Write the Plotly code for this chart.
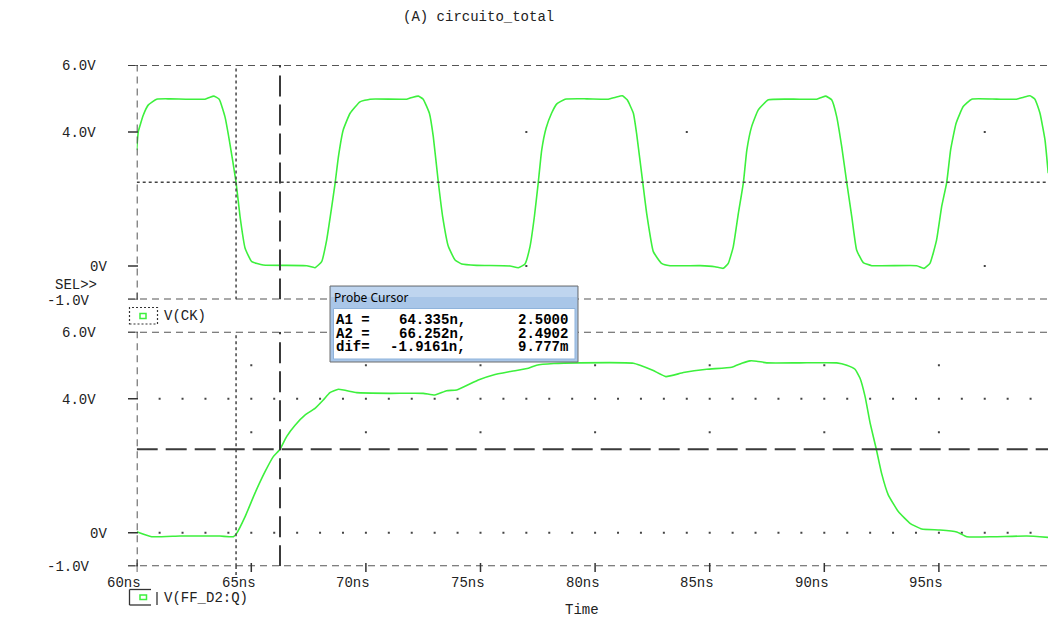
import plotly.graph_objects as go

W, H = 1048, 619

# ---------------- data ----------------
ck_t = [60.0, 60.07, 60.29, 60.51, 60.87, 61.45, 62.98, 63.2, 63.37, 63.6, 63.85, 64.04, 64.335, 64.51, 64.73,
        65.02, 65.52, 67.42, 67.78, 68.07, 68.29, 68.51, 68.66, 68.8, 69.01, 69.31, 69.74, 70.18, 71.78,
        72.05, 72.29, 72.5, 72.77, 72.94, 73.16, 73.35, 73.6, 73.89, 74.18, 74.83, 76.29, 76.65, 76.94,
        77.16, 77.35, 77.52, 77.67, 77.86, 78.1, 78.33, 78.69, 79.63, 80.58, 80.9, 81.19, 81.4, 81.67,
        81.81, 82.08, 82.25, 82.54, 82.9, 83.27, 84.58, 85.23, 85.59, 85.81, 86.03, 86.25, 86.47, 86.62,
        86.83, 87.12, 87.56, 88.65, 89.67, 89.9, 90.07, 90.32, 90.54, 90.76, 90.98, 91.2, 91.41, 91.7,
        92.07, 94.03, 94.35, 94.61, 94.9, 95.12, 95.34, 95.51, 95.75, 96.06, 96.43, 97.52, 98.39, 98.7,
        98.97, 99.19, 99.41, 99.63, 99.77]
ck_v = [3.46, 4.01, 4.51, 4.81, 4.98, 4.99, 4.98, 5.04, 5.07, 4.98, 4.46, 3.76, 2.50, 1.47, 0.53,
        0.13, 0.03, 0.01, -0.05, 0.13, 0.78, 1.77, 2.49, 3.26, 4.06, 4.56, 4.90, 4.98, 4.98,
        5.04, 5.07, 4.98, 4.56, 3.86, 2.50, 1.47, 0.58, 0.18, 0.06, 0.02, 0.0, -0.05, 0.06,
        0.58, 1.47, 2.49, 3.46, 4.11, 4.56, 4.84, 4.98, 4.99, 4.98, 5.04, 5.08, 4.96, 4.56,
        3.96, 2.49, 1.57, 0.43, 0.08, 0.01, 0.01, -0.02, -0.07, 0.08, 0.58, 1.57, 2.49, 3.46,
        4.16, 4.66, 4.96, 4.98, 4.98, 5.04, 5.07, 4.96, 4.46, 3.56, 2.49, 1.47, 0.48, 0.10,
        0.01, 0.01, -0.07, 0.08, 0.78, 1.77, 2.49, 3.46, 4.26, 4.76, 4.98, 4.98, 4.98, 5.04,
        5.08, 4.98, 4.56, 3.76, 2.77]

q_t = [60.0, 60.65, 61.89, 63.63, 64.22, 64.36, 64.73, 65.16, 65.6, 65.96, 66.252, 66.54, 66.91, 67.34,
       67.78, 68.14, 68.43, 68.8, 69.6, 71.05, 72.5, 73.01, 73.52, 73.96, 74.9, 75.56, 76.29, 77.09,
       77.45, 78.2, 79.27, 81.67, 81.96, 82.54, 83.09, 83.85, 84.87, 85.96, 86.4, 86.76, 87.05, 87.49,
       88.94, 90.54, 90.98, 91.34, 91.56, 91.78, 92.0, 92.26, 92.5, 92.79, 93.23, 93.74, 94.25, 95.05,
       95.78, 96.22, 97.38, 98.83, 99.76]
q_v = [0.03, -0.12, -0.10, -0.10, -0.12, -0.02, 0.48, 1.18, 1.82, 2.27, 2.49, 2.87, 3.21, 3.51,
       3.71, 3.96, 4.18, 4.28, 4.18, 4.16, 4.16, 4.11, 4.24, 4.26, 4.56, 4.71, 4.81, 4.91,
       5.00, 5.05, 5.07, 5.06, 5.00, 4.84, 4.66, 4.78, 4.88, 4.94, 5.06, 5.13, 5.12, 5.07,
       5.07, 5.07, 5.00, 4.88, 4.61, 4.06, 3.27, 2.52, 1.77, 1.13, 0.63, 0.28, 0.11, 0.08,
       0.02, -0.12, -0.12, -0.10, -0.14]

x_range = [60, 99.76]
y_range = [-1, 6]
x_ticks = [60, 65, 70, 75, 80, 85, 90, 95]
x_tick_text = ["60ns", "65ns", "70ns", "75ns", "80ns", "85ns", "90ns", "95ns"]
y_ticks = [6, 4, 0, -1]
y_tick_text = ["6.0V", "4.0V", "0V", "-1.0V"]
y_label_right_px = [97, 97, 108, 91]

a1_t, a1_v = 64.335, 2.5000
a2_t, a2_v = 66.252, 2.4902
cursor_rows = [("A1 =", "64.335n,", "2.5000"),
               ("A2 =", "66.252n,", "2.4902"),
               ("dif=", "-1.9161n,", "9.777m")]

# grid dots
bottom_rows_v = [4, 0]
bottom_minor_t = [61, 62, 63, 64, 65, 66, 67, 68, 69, 70, 71, 72, 73, 74, 75, 76, 77, 78, 79, 80,
                  81, 82, 83, 84, 85, 86, 87, 88, 89, 90, 91, 92, 93, 94, 95, 96, 97, 98, 99]
bottom_cols_t = [65, 70, 75, 80, 85, 90, 95]
bottom_cols_v = [5, 3]
top_dots_t = [77, 84, 97, 97, 77]
top_dots_v = [4, 4, 4, 0, 0]

# ---------------- styling ----------------
GREEN = "#3df03d"
GRAY = "#555555"
FONT = "Liberation Mono, Courier New, monospace"
TXT = "#222222"


def px(x):
    return x / W


def py(y):
    return 1 - y / H


fig = go.Figure()

gx, gy = [], []
for v in bottom_rows_v:
    for t in bottom_minor_t:
        gx.append(t); gy.append(v)
for t in bottom_cols_t:
    for v in bottom_cols_v:
        gx.append(t); gy.append(v)
fig.add_trace(go.Scatter(x=gx, y=gy, xaxis="x2", yaxis="y2", mode="markers",
                         marker=dict(symbol="square", size=2, color="#444", line=dict(width=0)),
                         hoverinfo="skip", showlegend=False))
fig.add_trace(go.Scatter(x=top_dots_t, y=top_dots_v, xaxis="x", yaxis="y", mode="markers",
                         marker=dict(symbol="square", size=2, color="#444", line=dict(width=0)),
                         hoverinfo="skip", showlegend=False))

fig.add_trace(go.Scatter(x=ck_t, y=ck_v, xaxis="x", yaxis="y", mode="lines",
                         line=dict(color=GREEN, width=1.6, shape="spline", smoothing=0.4),
                         name="V(CK)", showlegend=False))
fig.add_trace(go.Scatter(x=q_t, y=q_v, xaxis="x2", yaxis="y2", mode="lines",
                         line=dict(color=GREEN, width=1.6, shape="spline", smoothing=0.4),
                         name="V(FF_D2:Q)", showlegend=False))

shapes = []
BORDER_DASH = "7px,5px"
DOT = "3px,3px"
LONG = "21px,8px"

for xr, yr in (("x", "y"), ("x2", "y2")):
    for v in (y_range[1], y_range[0]):
        shapes.append(dict(type="line", xref="paper", yref=yr, x0=px(128), x1=1, y0=v, y1=v,
                           line=dict(color=GRAY, width=2, dash=BORDER_DASH)))
    shapes.append(dict(type="line", xref=xr, yref=yr, x0=x_range[0], x1=x_range[0], y0=y_range[0], y1=y_range[1],
                       line=dict(color=GRAY, width=2, dash=BORDER_DASH)))
    for v in y_ticks:
        shapes.append(dict(type="line", xref="paper", yref=yr, x0=px(128), x1=px(138), y0=v, y1=v,
                           line=dict(color="#333", width=1.5)))
    shapes.append(dict(type="line", xref=xr, yref=yr, x0=a1_t, x1=a1_t, y0=y_range[0], y1=y_range[1],
                       line=dict(color="#444", width=1.5, dash=DOT)))
    shapes.append(dict(type="line", xref=xr, yref=yr, x0=a2_t, x1=a2_t, y0=y_range[0], y1=y_range[1],
                       line=dict(color="#3a3a3a", width=2, dash=LONG)))

for yr in ("y", "y2"):
    shapes.append(dict(type="line", xref="x" if yr == "y" else "x2", yref=yr, x0=60, x1=60, y0=-1.2, y1=-0.8,
                       line=dict(color="#333", width=1.5)))

shapes.append(dict(type="line", xref="x", yref="y", x0=x_range[0], x1=x_range[1], y0=a1_v, y1=a1_v,
                   line=dict(color="#444", width=1.5, dash=DOT)))
shapes.append(dict(type="line", xref="x2", yref="y2", x0=x_range[0], x1=x_range[1], y0=a2_v, y1=a2_v,
                   line=dict(color="#3a3a3a", width=2, dash=LONG)))
shapes.append(dict(type="line", xref="x2", yref="paper", x0=a1_t, x1=a1_t, y0=py(566), y1=py(578),
                   line=dict(color="#444", width=1.5, dash=DOT)))

for t in x_ticks:
    shapes.append(dict(type="line", xref="x2", yref="paper", x0=t, x1=t, y0=py(563), y1=py(572),
                       line=dict(color="#333", width=1.5)))

# legend V(CK)
shapes.append(dict(type="rect", xref="paper", yref="paper", x0=px(129.5), x1=px(157.5), y0=py(324), y1=py(307.5),
                   line=dict(color="#333", width=1.2, dash="2px,2px")))
shapes.append(dict(type="rect", xref="paper", yref="paper", x0=px(140), x1=px(146), y0=py(318.5), y1=py(313.5),
                   line=dict(color=GREEN, width=1.5)))
# legend V(FF_D2:Q)
for (x0, y0, x1, y1) in ((129.5, 589.5, 151, 589.5), (129.5, 589.5, 129.5, 605), (129.5, 605, 151, 605),
                         (157, 592, 157, 605)):
    shapes.append(dict(type="line", xref="paper", yref="paper", x0=px(x0), x1=px(x1), y0=py(y0), y1=py(y1),
                       line=dict(color="#333", width=1.3)))
shapes.append(dict(type="rect", xref="paper", yref="paper", x0=px(140), x1=px(146.5), y0=py(599.5), y1=py(595),
                   line=dict(color=GREEN, width=1.5)))

# probe cursor window
shapes.append(dict(type="rect", xref="paper", yref="paper", x0=px(330), x1=px(578), y0=py(362), y1=py(286),
                   line=dict(color="#6e6e6e", width=1), fillcolor="#a9c6e8"))
shapes.append(dict(type="rect", xref="paper", yref="paper", x0=px(331), x1=px(577), y0=py(297), y1=py(287),
                   line=dict(width=0), fillcolor="#bfd5ef"))
shapes.append(dict(type="rect", xref="paper", yref="paper", x0=px(333.5), x1=px(575), y0=py(359), y1=py(308.5),
                   line=dict(color="#8fb3db", width=1), fillcolor="white"))

annotations = []
annotations.append(dict(text="(A) circuito_total", xref="paper", yref="paper", x=px(478), y=py(17),
                        showarrow=False, xanchor="center", yanchor="middle", font=dict(family=FONT, size=14, color=TXT)))
annotations.append(dict(text="Time", xref="paper", yref="paper", x=px(582), y=py(610),
                        showarrow=False, xanchor="center", yanchor="middle", font=dict(family=FONT, size=14, color=TXT)))
annotations.append(dict(text="SEL>>", xref="paper", yref="paper", x=px(99), y=py(285),
                        showarrow=False, xanchor="right", yanchor="middle", font=dict(family=FONT, size=14, color=TXT)))
for yr in ("y", "y2"):
    for v, s, r in zip(y_ticks, y_tick_text, y_label_right_px):
        annotations.append(dict(text=s, xref="paper", yref=yr, x=px(r + 1), y=v, yshift=-1,
                                showarrow=False, xanchor="right", yanchor="middle",
                                font=dict(family=FONT, size=14, color=TXT)))
for t, s in zip(x_ticks, x_tick_text):
    annotations.append(dict(text=s, xref="x2", yref="paper", x=t, xshift=-12.5, y=py(583),
                            showarrow=False, xanchor="center", yanchor="middle",
                            font=dict(family=FONT, size=14, color=TXT)))
annotations.append(dict(text="V(CK)", xref="paper", yref="paper", x=px(162), y=py(316),
                        showarrow=False, xanchor="left", yanchor="middle", font=dict(family=FONT, size=14, color=TXT)))
annotations.append(dict(text="V(FF_D2:Q)", xref="paper", yref="paper", x=px(162), y=py(598),
                        showarrow=False, xanchor="left", yanchor="middle", font=dict(family=FONT, size=14, color=TXT)))
annotations.append(dict(text="Probe Cursor", xref="paper", yref="paper", x=px(332), y=py(298),
                        showarrow=False, xanchor="left", yanchor="middle",
                        font=dict(family="Noto Sans, Open Sans, sans-serif", size=12, color="#000")))
row_y = [320, 333.5, 347]
for (lab, v1, v2), yy in zip(cursor_rows, row_y):
    f = dict(family=FONT, size=14, color="#000", weight="bold")
    annotations.append(dict(text=lab, xref="paper", yref="paper", x=px(334), y=py(yy), showarrow=False,
                            xanchor="left", yanchor="middle", font=f))
    annotations.append(dict(text=v1, xref="paper", yref="paper", x=px(468), y=py(yy), showarrow=False,
                            xanchor="right", yanchor="middle", font=f))
    annotations.append(dict(text=v2, xref="paper", yref="paper", x=px(570), y=py(yy), showarrow=False,
                            xanchor="right", yanchor="middle", font=f))

ax_common = dict(range=x_range, visible=False, showgrid=False, zeroline=False, fixedrange=True)
ay_common = dict(range=y_range, visible=False, showgrid=False, zeroline=False, fixedrange=True)

fig.update_layout(
    width=W, height=H,
    margin=dict(l=0, r=0, t=0, b=0, pad=0),
    paper_bgcolor="white", plot_bgcolor="white",
    showlegend=False,
    xaxis=dict(domain=[px(136.7), 1.0], anchor="y", **ax_common),
    xaxis2=dict(domain=[px(136.7), 1.0], anchor="y2", **ax_common),
    yaxis=dict(domain=[py(299.5), py(65)], anchor="x", **ay_common),
    yaxis2=dict(domain=[py(566.2), py(331.7)], anchor="x2", **ay_common),
    shapes=shapes,
    annotations=annotations,
)

fig.write_html("out.html", config={"displayModeBar": False},
               post_script="document.body.style.margin='0';document.body.style.overflow='hidden';")
